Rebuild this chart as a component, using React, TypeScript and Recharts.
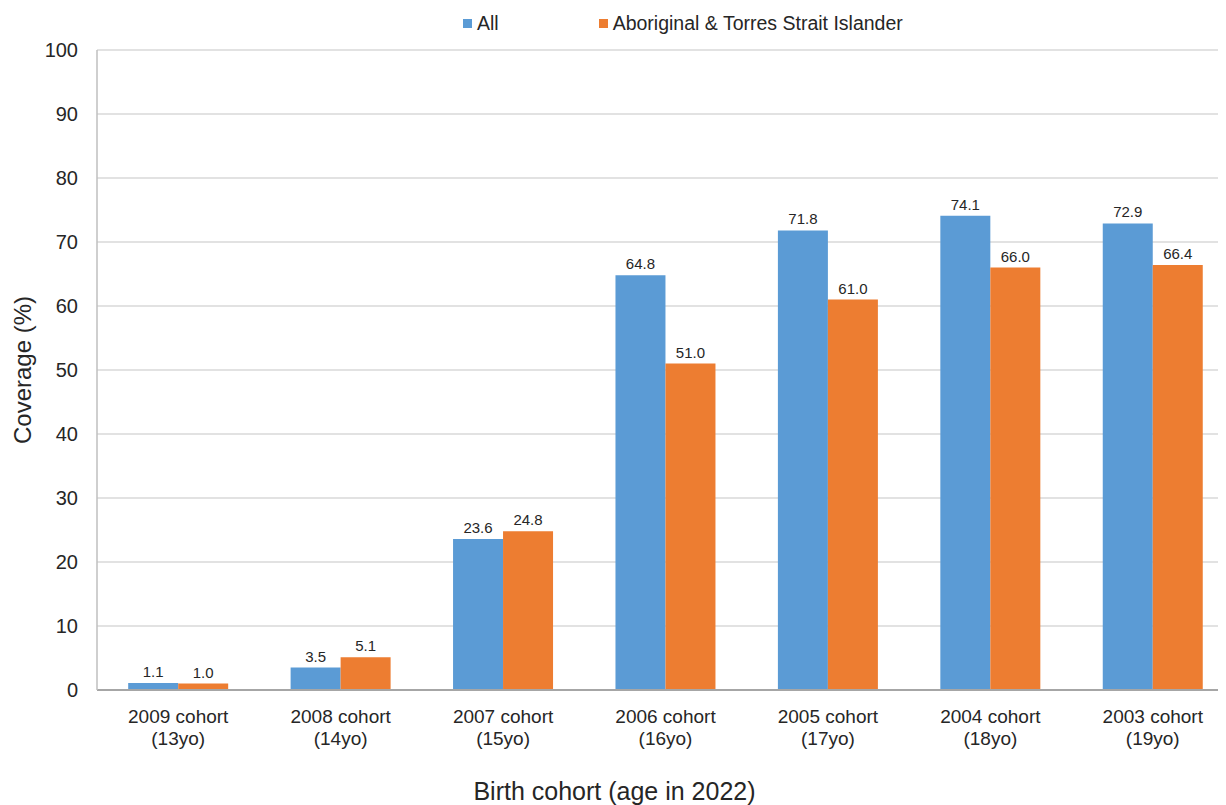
import { BarChart, Bar, XAxis, YAxis, CartesianGrid, Legend, LabelList } from 'recharts';

const cohorts = ['2009 cohort', '2008 cohort', '2007 cohort', '2006 cohort', '2005 cohort', '2004 cohort', '2003 cohort'];
const ages = ['(13yo)', '(14yo)', '(15yo)', '(16yo)', '(17yo)', '(18yo)', '(19yo)'];
const allValues = [1.1, 3.5, 23.6, 64.8, 71.8, 74.1, 72.9];
const atsiValues = [1.0, 5.1, 24.8, 51.0, 61.0, 66.0, 66.4];
const seriesNames = ['All', 'Aboriginal & Torres Strait Islander'];
const yTicks = [0, 10, 20, 30, 40, 50, 60, 70, 80, 90, 100];

const data = cohorts.map((c, i) => ({
  cohort: c,
  age: ages[i],
  all: allValues[i],
  atsi: atsiValues[i],
}));

const FONT = '"Liberation Sans", Arial, sans-serif';
const TEXT = '#262626';

function CohortTick({ x, y, payload, index }: any) {
  return (
    <text x={x} textAnchor="middle" fill={TEXT} fontSize={19} fontFamily={FONT}>
      <tspan x={x} y={y + 31}>{payload.value}</tspan>
      <tspan x={x} y={y + 53}>{ages[index]}</tspan>
    </text>
  );
}

function TopLegend({ payload }: any) {
  // keep series order (legend sorts by name otherwise)
  const items = [...(payload || [])].sort(
    (a: any, b: any) => seriesNames.indexOf(a.value) - seriesNames.indexOf(b.value)
  );
  return (
    <div style={{ display: 'flex', fontFamily: FONT, fontSize: 19.5, color: TEXT, lineHeight: '22px' }}>
      {items.map((p: any, i: number) => (
        <div key={p.value} style={{ display: 'flex', alignItems: 'center', marginRight: i === 0 ? 100 : 0 }}>
          <span style={{ width: 9, height: 9, background: p.color, marginRight: 5, display: 'inline-block' }} />
          <span>{p.value}</span>
        </div>
      ))}
    </div>
  );
}

export default function App() {
  return (
    <div style={{ marginLeft: -8, marginTop: -8, width: 1226, height: 805, overflow: 'hidden', background: '#fff' }}>
      <BarChart
        width={1240}
        height={805}
        data={data}
        margin={{ top: 28, right: 6, left: 0, bottom: 0 }}
        barCategoryGap="19.2%"
        barGap={0}
      >
        <CartesianGrid vertical={false} stroke="#d9d9d9" strokeWidth={1.5} />
        <XAxis
          dataKey="cohort"
          height={115}
          tickLine={false}
          tickSize={0}
          stroke="#a6a6a6"
          strokeWidth={2}
          tick={<CohortTick />}
          interval={0}
          label={{
            value: 'Birth cohort (age in 2022)',
            position: 'insideBottom',
            offset: 5,
            dx: -51,
            fill: TEXT,
            fontSize: 25,
            fontFamily: FONT,
          }}
        />
        <YAxis
          width={97}
          domain={[0, 100]}
          ticks={yTicks}
          tickLine={false}
          tickSize={0}
          tickMargin={19}
          stroke="#bfbfbf"
          strokeWidth={1.5}
          tick={{ fill: TEXT, fontSize: 20, fontFamily: FONT }}
          label={{
            value: 'Coverage (%)',
            angle: -90,
            position: 'insideLeft',
            offset: 22,
            fill: TEXT,
            fontSize: 24,
            fontFamily: FONT,
            style: { textAnchor: 'middle' },
          }}
        />
        <Legend
          verticalAlign="top"
          content={<TopLegend />}
          wrapperStyle={{ top: 12, left: 463, width: 'auto' }}
        />
        <Bar dataKey="all" name={seriesNames[0]} fill="#5b9bd5" isAnimationActive={false}>
          <LabelList
            dataKey="all"
            position="top"
            offset={6}
            formatter={(v: any) => Number(v).toFixed(1)}
            style={{ fill: TEXT, fontSize: 15, fontFamily: FONT }}
          />
        </Bar>
        <Bar dataKey="atsi" name={seriesNames[1]} fill="#ed7d31" isAnimationActive={false}>
          <LabelList
            dataKey="atsi"
            position="top"
            offset={6}
            formatter={(v: any) => Number(v).toFixed(1)}
            style={{ fill: TEXT, fontSize: 15, fontFamily: FONT }}
          />
        </Bar>
      </BarChart>
    </div>
  );
}
